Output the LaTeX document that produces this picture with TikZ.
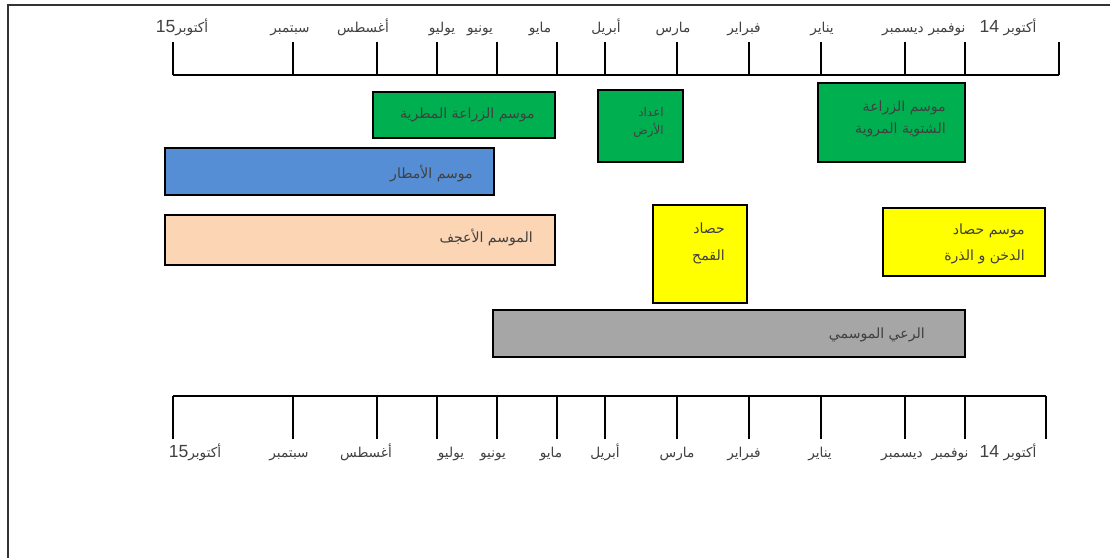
\documentclass[tikz,border=0pt]{standalone}
\usepackage{fontspec}
\setmainfont{Liberation Sans}
\newfontfamily\arabicfont[Script=Arabic]{DejaVu Sans}
\TeXXeTstate=1
\usepackage{tikz}

\definecolor{seasongreen}{HTML}{00B050}
\definecolor{seasonblue}{HTML}{558ED5}
\definecolor{seasonpeach}{HTML}{FCD5B5}
\definecolor{seasonyellow}{HTML}{FFFF00}
\definecolor{seasongray}{HTML}{A6A6A6}
\definecolor{labelgray}{HTML}{404040}

\newcommand{\ar}[1]{{\arabicfont\beginR #1\endR}}
\newcommand{\arnum}[2]{{\arabicfont\beginR #1\beginL{\rmfamily\fontsize{12.5}{12.5}\selectfont #2}\endL\endR}}

\tikzset{
  axis/.style={line width=1.3pt, black},
  box/.style={draw=black, line width=1.3pt},
  monthlabel/.style={text=labelgray, font=\fontsize{9.7}{12}\selectfont, inner sep=0pt, anchor=base},
  boxtext/.style={text=labelgray, font=\fontsize{10}{18}\selectfont, align=right, inner sep=0pt, anchor=base east}
}

\begin{document}
\begin{tikzpicture}[x=0.025cm, y=-0.025cm]

  \useasboundingbox (0,0) rectangle (1110,558);
  \draw [line width=0.9pt, black!80] (8,558) -- (8,5) -- (1110,5);

  % top time line
  \coordinate (TL) at (173,75);
  \coordinate (TR) at (1059,75);
  \draw [axis] (TL) -- (TR);
  \foreach \x [count=\i] in {173,293,377,437,497,557,605,677,749,821,905,965,1059}
  {
    \coordinate (T\i) at (\x,75);
    \draw [axis] (T\i) -- ++(0,-33);
  }

  % bottom time line
  \coordinate (BL) at (173,396);
  \coordinate (BR) at (1046,396);
  \draw [axis] (BL) -- (BR);
  \foreach \x [count=\i] in {173,293,377,437,497,557,605,677,749,821,905,965,1046}
  {
    \coordinate (B\i) at (\x,396);
    \draw [axis] (B\i) -- ++(0,43);
  }

  % month labels, top
  \node [monthlabel] (m1) at (182,33) {\arnum{أكتوبر}{15}};
  \node [monthlabel] (m2) at (290,33) {\ar{سبتمبر}};
  \node [monthlabel] (m3) at (363,33) {\ar{أغسطس}};
  \node [monthlabel] (m4) at (442,33) {\ar{يوليو}};
  \node [monthlabel] (m5) at (480,33) {\ar{يونيو}};
  \node [monthlabel] (m6) at (540,33) {\ar{مايو}};
  \node [monthlabel] (m7) at (606,33) {\ar{أبريل}};
  \node [monthlabel] (m8) at (673,33) {\ar{مارس}};
  \node [monthlabel] (m9) at (744,33) {\ar{فبراير}};
  \node [monthlabel] (m10) at (822,33) {\ar{يناير}};
  \node [monthlabel] (m11) at (903,33) {\ar{ديسمبر}};
  \node [monthlabel] (m12) at (947,33) {\ar{نوفمبر}};
  \node [monthlabel] (m13) at (1008,33) {\arnum{أكتوبر }{14}};

  % month labels, bottom
  \node [monthlabel] (n1) at (195,457) {\arnum{أكتوبر}{15}};
  \node [monthlabel] (n2) at (289,457) {\ar{سبتمبر}};
  \node [monthlabel] (n3) at (366,457) {\ar{أغسطس}};
  \node [monthlabel] (n4) at (451,457) {\ar{يوليو}};
  \node [monthlabel] (n5) at (493,457) {\ar{يونيو}};
  \node [monthlabel] (n6) at (551,457) {\ar{مايو}};
  \node [monthlabel] (n7) at (605,457) {\ar{أبريل}};
  \node [monthlabel] (n8) at (677,457) {\ar{مارس}};
  \node [monthlabel] (n9) at (744,457) {\ar{فبراير}};
  \node [monthlabel] (n10) at (820,457) {\ar{يناير}};
  \node [monthlabel] (n11) at (902,457) {\ar{ديسمبر}};
  \node [monthlabel] (n12) at (950,457) {\ar{نوفمبر}};
  \node [monthlabel] (n13) at (1008,457) {\arnum{أكتوبر }{14}};

  % season boxes
  \draw [box, fill=seasongreen] (373,92) rectangle (555,138);
  \draw [box, fill=seasongreen] (598,90) rectangle (683,162);
  \draw [box, fill=seasongreen] (818,83) rectangle (965,162);
  \draw [box, fill=seasonblue] (165,148) rectangle (494,195);
  \draw [box, fill=seasonpeach] (165,215) rectangle (555,265);
  \draw [box, fill=seasonyellow] (653,205) rectangle (747,303);
  \draw [box, fill=seasonyellow] (883,208) rectangle (1045,276);
  \draw [box, fill=seasongray] (493,310) rectangle (965,357);

  % season texts (base east = baseline of the last line)
  \node [boxtext] (rainfed) at (535,118) {\ar{موسم الزراعة المطرية}};
  \node [boxtext, font=\fontsize{8.5}{12.8}\selectfont] (land) at (664,134) {\ar{اعداد}\\\ar{الأرض}};
  \node [boxtext, font=\fontsize{10}{15}\selectfont] (winter) at (946,133) {\ar{موسم الزراعة}\\\ar{الشتوية المروية}};
  \node [boxtext] (rains) at (473,178) {\ar{موسم الأمطار}};
  \node [boxtext] (dry) at (533,242) {\ar{الموسم الأعجف}};
  \node [boxtext, font=\fontsize{10}{19}\selectfont] (wheat) at (725,260) {\ar{حصاد}\\\ar{القمح}};
  \node [boxtext] (millet) at (1025,260) {\ar{موسم حصاد}\\\ar{الدخن و الذرة}};
  \node [boxtext] (grazing) at (925,338) {\ar{الرعي الموسمي}};

\end{tikzpicture}
\end{document}
